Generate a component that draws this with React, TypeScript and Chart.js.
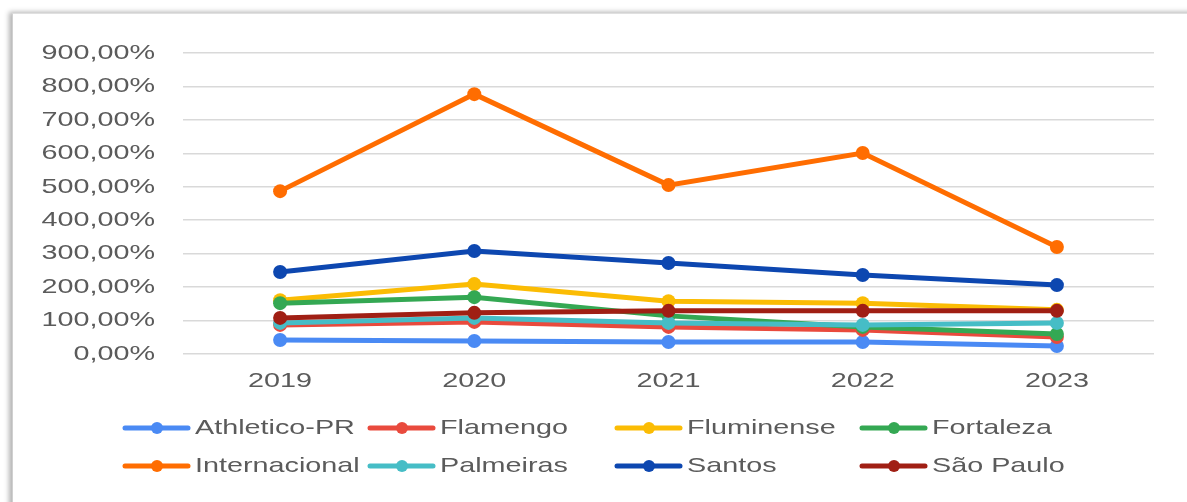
import React, { useEffect, useRef } from "react";
import { Chart, registerables } from "chart.js";

Chart.register(...registerables);

const years = ["2019", "2020", "2021", "2022", "2023"];
const yTicks = [0, 100, 200, 300, 400, 500, 600, 700, 800, 900];

const athletico = [42, 39, 36, 36, 24];
const flamengo = [87, 96, 81, 72, 51];
const fluminense = [161, 209, 158, 152, 132];
const fortaleza = [152, 170, 114, 81, 60];
const internacional = [487, 777, 505, 601, 320];
const palmeiras = [93, 108, 93, 87, 93];
const santos = [245, 308, 272, 236, 206];
const saoPaulo = [108, 123, 129, 129, 129];

const seriesNames = [
  "Athletico-PR",
  "Flamengo",
  "Fluminense",
  "Fortaleza",
  "Internacional",
  "Palmeiras",
  "Santos",
  "São Paulo",
];
const seriesValues = [athletico, flamengo, fluminense, fortaleza, internacional, palmeiras, santos, saoPaulo];
const seriesColors = ["#4a8af4", "#e94a3d", "#fbbc04", "#34a853", "#ff6d01", "#46bdc6", "#0d47b0", "#a01f14"];

const fmt = (v: number) => `${v},00%`;

const TEXT_COLOR = "#5b5b5b";
const FONT = '21px "Liberation Sans", Arial, sans-serif';
const SX = 1.37;

const textPlugin = {
  id: "stretchedText",
  afterDraw(chart: any) {
    const ctx = chart.ctx as CanvasRenderingContext2D;
    const ys = chart.scales.y;
    const xs = chart.scales.x;
    const draw = (t: string, px: number, py: number, align: CanvasTextAlign) => {
      ctx.save();
      ctx.translate(px, py);
      ctx.scale(SX, 1);
      ctx.textAlign = align;
      ctx.textBaseline = "middle";
      ctx.fillStyle = TEXT_COLOR;
      ctx.font = FONT;
      ctx.fillText(t, 0, 0);
      ctx.restore();
    };
    yTicks.forEach((v) => draw(fmt(v), 155, ys.getPixelForValue(v), "right"));
    years.forEach((yr, i) => draw(yr, xs.getPixelForValue(i), 381, "center"));

    const colX = [123, 368, 615, 860];
    const rowY = [428, 466];
    chart.data.datasets.forEach((ds: any, i: number) => {
      const cx = colX[i % 4];
      const cy = rowY[Math.floor(i / 4)];
      ctx.save();
      ctx.strokeStyle = ds.borderColor;
      ctx.lineWidth = 5;
      ctx.lineCap = "round";
      ctx.beginPath();
      ctx.moveTo(cx + 2, cy);
      ctx.lineTo(cx + 65, cy);
      ctx.stroke();
      ctx.fillStyle = ds.borderColor;
      ctx.beginPath();
      ctx.arc(cx + 34, cy, 6, 0, Math.PI * 2);
      ctx.fill();
      ctx.restore();
      draw(ds.label, cx + 72, cy, "left");
    });
  },
};

export default function App() {
  const ref = useRef<HTMLCanvasElement>(null);
  useEffect(() => {
    if (!ref.current) return;
    const n = seriesNames.length;
    const chart = new Chart(ref.current, {
      type: "line",
      data: {
        labels: years,
        datasets: seriesNames.map((name, i) => ({
          label: name,
          data: seriesValues[i],
          borderColor: seriesColors[i],
          backgroundColor: seriesColors[i],
          pointBackgroundColor: seriesColors[i],
          pointBorderWidth: 0,
          pointRadius: 7,
          borderWidth: 5,
          tension: 0,
          order: n - i,
        })),
      },
      options: {
        responsive: false,
        animation: false,
        layout: { padding: { left: 183, right: 33, top: 53, bottom: 140 } },
        plugins: { legend: { display: false }, tooltip: { enabled: false } },
        scales: {
          x: {
            offset: true,
            grid: { display: false },
            border: { display: false },
            ticks: { display: false },
          },
          y: {
            min: 0,
            max: 900,
            ticks: { display: false, stepSize: 100 },
            grid: { color: "#d9d9d9", lineWidth: 1.5, drawTicks: false },
            border: { display: false },
          },
        },
      },
      plugins: [textPlugin],
    });
    return () => chart.destroy();
  }, []);

  return (
    <div style={{ position: "absolute", left: 0, top: 0, width: 1187, height: 502, overflow: "hidden", background: "#fff" }}>
      <div
        style={{
          position: "absolute",
          left: 12,
          top: 13,
          width: 1200,
          height: 520,
          background: "#fff",
          borderLeft: "1px solid #d0d0d0",
          borderTop: "1px solid #e0e0e0",
          boxShadow: "-3px -1px 5px rgba(0,0,0,0.3)",
        }}
      />
      <canvas ref={ref} width={1187} height={502} style={{ position: "absolute", left: 0, top: 0, width: 1187, height: 502 }} />
    </div>
  );
}
